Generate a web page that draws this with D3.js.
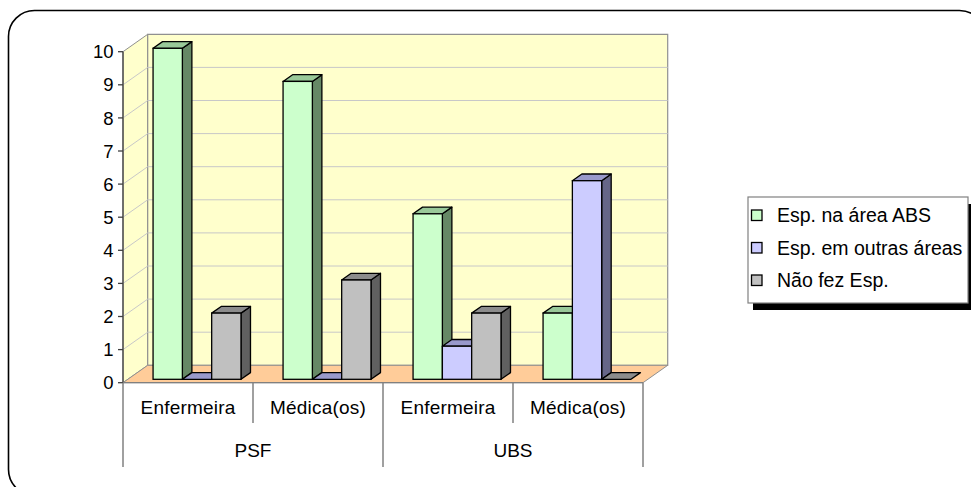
<!DOCTYPE html>
<html>
<head>
<meta charset="utf-8">
<script src="https://cdn.jsdelivr.net/npm/d3@7/dist/d3.min.js"></script>
<style>
  html, body { margin: 0; padding: 0; background: #ffffff; }
  svg { display: block; font-family: "Liberation Sans", Arial, sans-serif; }
</style>
</head>
<body>
<svg id="chart" width="971" height="487"></svg>
<script>
// Categories (inner level) and their groups (outer level)
const categories = ["Enfermeira", "Médica(os)", "Enfermeira", "Médica(os)"];
const groups = ["PSF", "UBS"];
const groupOf = [0, 0, 1, 1];

// Series names and values, one value per category
const seriesNames = ["Esp. na área ABS", "Esp. em outras áreas", "Não fez Esp."];
const espAbs    = [10, 9, 5, 2];
const espOutras = [0, 0, 1, 6];
const naoFez    = [2, 3, 2, 0];
const seriesValues = [espAbs, espOutras, naoFez];

const yTicks = [0, 1, 2, 3, 4, 5, 6, 7, 8, 9, 10];

// Face colours per series: front, top, side
const palette = [
  { front: "#CCFFCC", top: "#99C999", side: "#668866" },
  { front: "#CCCCFF", top: "#9999CC", side: "#666688" },
  { front: "#C0C0C0", top: "#8C8C8C", side: "#606060" }
];

const svg = d3.select("#chart");

// Outer rounded frame
svg.append("rect")
  .attr("x", 8.5).attr("y", 10.5)
  .attr("width", 977).attr("height", 485)
  .attr("rx", 26).attr("ry", 26)
  .attr("fill", "#ffffff").attr("stroke", "#000").attr("stroke-width", 1.6);

// Plot geometry (front plane) and depth offset of the 3D box
const plotLeft = 123, plotRight = 643, plotBottom = 382.7, plotTop = 51.7;
const DX = 24.7, DY = -17.4;

const y = d3.scaleLinear().domain([0, 10]).range([plotBottom, plotTop]);
const x0 = d3.scaleBand().domain(d3.range(categories.length)).range([plotLeft, plotRight]);
const x1 = d3.scaleBand().domain(d3.range(seriesNames.length))
  .range([0, x0.bandwidth()]).paddingInner(0).paddingOuter(0.718).align(0.6);

const poly = pts => pts.map(p => p.join(",")).join(" ");

const g = svg.append("g");

// Side wall (left)
g.append("polygon")
  .attr("points", poly([[plotLeft, y(10)], [plotLeft + DX, y(10) + DY], [plotLeft + DX, y(0) + DY], [plotLeft, y(0)]]))
  .attr("fill", "#FFFFCC").attr("stroke", "#909090").attr("stroke-width", 1);

// Back wall
g.append("polygon")
  .attr("points", poly([[plotLeft + DX, y(10) + DY], [plotRight + DX, y(10) + DY], [plotRight + DX, y(0) + DY], [plotLeft + DX, y(0) + DY]]))
  .attr("fill", "#FFFFCC").attr("stroke", "#909090").attr("stroke-width", 1.2);

// Gridlines on side and back walls
const grid = yTicks.filter(v => v > 0 && v < 10);
g.selectAll(".grid-side").data(grid).join("line")
  .attr("x1", plotLeft).attr("y1", d => y(d))
  .attr("x2", plotLeft + DX).attr("y2", d => y(d) + DY)
  .attr("stroke", "#C8C8C8").attr("stroke-width", 1);
g.selectAll(".grid-back").data(grid).join("line")
  .attr("x1", plotLeft + DX).attr("y1", d => y(d) + DY)
  .attr("x2", plotRight + DX).attr("y2", d => y(d) + DY)
  .attr("stroke", "#C8C8C8").attr("stroke-width", 1);

// Floor
g.append("polygon")
  .attr("points", poly([[plotLeft, y(0)], [plotRight, y(0)], [plotRight + DX, y(0) + DY], [plotLeft + DX, y(0) + DY]]))
  .attr("fill", "#FFCC99").attr("stroke", "#909090").attr("stroke-width", 1);

// Bars: sit between depth fractions f0 and f1 of the box
const f0 = 0.195, f1 = 0.58;
const ox0 = DX * f0, oy0 = DY * f0;
const bdx = DX * (f1 - f0), bdy = DY * (f1 - f0);

const bars = [];
categories.forEach((c, ci) => {
  seriesValues.forEach((vals, si) => {
    bars.push({ ci, si, v: vals[ci] });
  });
});

const barG = g.append("g");
bars.forEach(b => {
  const xl = x0(b.ci) + x1(b.si) + ox0;
  const xr = xl + x1.bandwidth();
  const yt = y(b.v) + oy0;
  const yb = y(0) + oy0;
  const col = palette[b.si];
  const sw = 1.3;
  // right side face
  if (b.v > 0) {
    barG.append("polygon")
      .attr("points", poly([[xr, yt], [xr + bdx, yt + bdy], [xr + bdx, yb + bdy], [xr, yb]]))
      .attr("fill", col.side).attr("stroke", "#000").attr("stroke-width", sw).attr("stroke-linejoin", "round");
  }
  // top face
  barG.append("polygon")
    .attr("points", poly([[xl, yt], [xl + bdx, yt + bdy], [xr + bdx, yt + bdy], [xr, yt]]))
    .attr("fill", col.top).attr("stroke", "#000").attr("stroke-width", sw).attr("stroke-linejoin", "round");
  // front face
  if (b.v > 0) {
    barG.append("rect")
      .attr("x", xl).attr("y", yt)
      .attr("width", xr - xl).attr("height", yb - yt)
      .attr("fill", col.front).attr("stroke", "#000").attr("stroke-width", sw);
  }
});

// Value axis
const yAxis = svg.append("g");
yAxis.append("line")
  .attr("x1", plotLeft).attr("x2", plotLeft).attr("y1", y(10)).attr("y2", y(0))
  .attr("stroke", "#404040").attr("stroke-width", 1.3);
yAxis.selectAll(".tick").data(yTicks).join("line")
  .attr("x1", plotLeft - 5).attr("x2", plotLeft).attr("y1", d => y(d)).attr("y2", d => y(d))
  .attr("stroke", "#404040").attr("stroke-width", 1.3);
yAxis.selectAll(".ticklabel").data(yTicks).join("text")
  .attr("x", plotLeft - 9.5).attr("y", d => y(d))
  .attr("dy", "0.36em")
  .attr("text-anchor", "end")
  .attr("font-size", 18.5)
  .attr("fill", "#000")
  .text(d => d);

// Category axis: table-style two-level labels
const catAxis = svg.append("g");
const lineCol = "#808080";
catAxis.append("line")
  .attr("x1", plotLeft).attr("x2", plotRight).attr("y1", y(0)).attr("y2", y(0))
  .attr("stroke", lineCol).attr("stroke-width", 1.3);
// boundaries between categories
const bounds = d3.range(categories.length + 1);
bounds.forEach(i => {
  const xx = i < categories.length ? x0(i) : plotRight;
  const isGroupEdge = i === 0 || i === categories.length || groupOf[i] !== groupOf[i - 1];
  catAxis.append("line")
    .attr("x1", xx).attr("x2", xx)
    .attr("y1", y(0)).attr("y2", isGroupEdge ? 467 : 423)
    .attr("stroke", lineCol).attr("stroke-width", 1.5);
});
catAxis.selectAll(".catlabel").data(categories).join("text")
  .attr("x", (d, i) => x0(i) + x0.bandwidth() / 2)
  .attr("y", 414)
  .attr("text-anchor", "middle")
  .attr("font-size", 19)
  .attr("letter-spacing", 0.2)
  .attr("fill", "#000")
  .text(d => d);
catAxis.selectAll(".grouplabel").data(groups).join("text")
  .attr("x", (d, gi) => {
    const idx = groupOf.map((v, i) => v === gi ? i : -1).filter(i => i >= 0);
    return (x0(idx[0]) + x0(idx[idx.length - 1]) + x0.bandwidth()) / 2;
  })
  .attr("y", 457)
  .attr("text-anchor", "middle")
  .attr("font-size", 19)
  .attr("fill", "#000")
  .text(d => d);

// Legend with drop shadow
const lg = svg.append("g");
const lx = 748, ly = 197, lw = 220, lh = 106;
lg.append("rect").attr("x", lx + 5).attr("y", ly + 7).attr("width", lw).attr("height", lh).attr("fill", "#000");
lg.append("rect").attr("x", lx).attr("y", ly).attr("width", lw).attr("height", lh)
  .attr("fill", "#fff").attr("stroke", "#808080").attr("stroke-width", 1.2);
seriesNames.forEach((name, i) => {
  const cy = 215 + i * 32.5;
  lg.append("rect").attr("x", 751.5).attr("y", cy - 5).attr("width", 10.5).attr("height", 10.5)
    .attr("fill", palette[i].front).attr("stroke", "#000").attr("stroke-width", 1.3);
  lg.append("text").attr("x", 777).attr("y", cy).attr("dy", "0.38em")
    .attr("font-size", 19.5).attr("fill", "#000").text(name);
});
</script>
</body>
</html>
